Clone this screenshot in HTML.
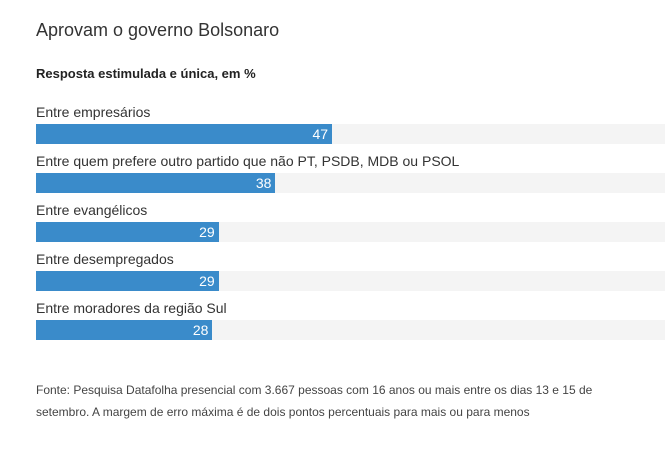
<!DOCTYPE html>
<html><head><meta charset="utf-8"><style>
body{margin:0;width:665px;height:460px;background:#fff;font-family:"Liberation Sans",sans-serif;color:#333;position:relative;overflow:hidden}
.t{position:absolute;left:36px;top:20px;font-size:18px;color:#333}
.s{position:absolute;left:36px;top:66px;font-size:13px;font-weight:bold;color:#222}
.f{position:absolute;left:36px;top:379px;font-size:12px;line-height:22px;color:#444;width:600px}
.lab{position:absolute;left:36px;font-size:14px;color:#333;white-space:nowrap}
.track{position:absolute;left:36px;width:630px;height:20px;background:#f4f4f4}
.bar{position:absolute;left:0;top:0;height:20px;background:#3a8bca}
.val{position:absolute;right:4px;top:2px;font-size:14px;color:#fff}
</style></head><body>
<div class="t">Aprovam o governo Bolsonaro</div>
<div class="s">Resposta estimulada e única, em %</div>
<div id="chart"></div>
<div class="f">Fonte: Pesquisa Datafolha presencial com 3.667 pessoas com 16 anos ou mais entre os dias 13 e 15 de setembro. A margem de erro máxima é de dois pontos percentuais para mais ou para menos</div>
<script>
const categories=["Entre empresários","Entre quem prefere outro partido que não PT, PSDB, MDB ou PSOL","Entre evangélicos","Entre desempregados","Entre moradores da região Sul"];
const values=[47,38,29,29,28];
const maxValue=100;
const chart=document.getElementById('chart');
function xScale(v){return v/maxValue*630;}
function yRow(i){return 104+i*49;}
categories.forEach((c,i)=>{
  const l=document.createElement('div');l.className='lab';l.style.top=yRow(i)+'px';l.textContent=c;
  
  
  chart.appendChild(l);
  const t=document.createElement('div');t.className='track';t.style.top=(yRow(i)+20)+'px';
  
  
  const b=document.createElement('div');b.className='bar';b.style.width=xScale(values[i])+'px';
  
  
  const v=document.createElement('span');v.className='val';v.textContent=values[i];
  
  
  b.appendChild(v);t.appendChild(b);chart.appendChild(t);
});
</script>
</body></html>
